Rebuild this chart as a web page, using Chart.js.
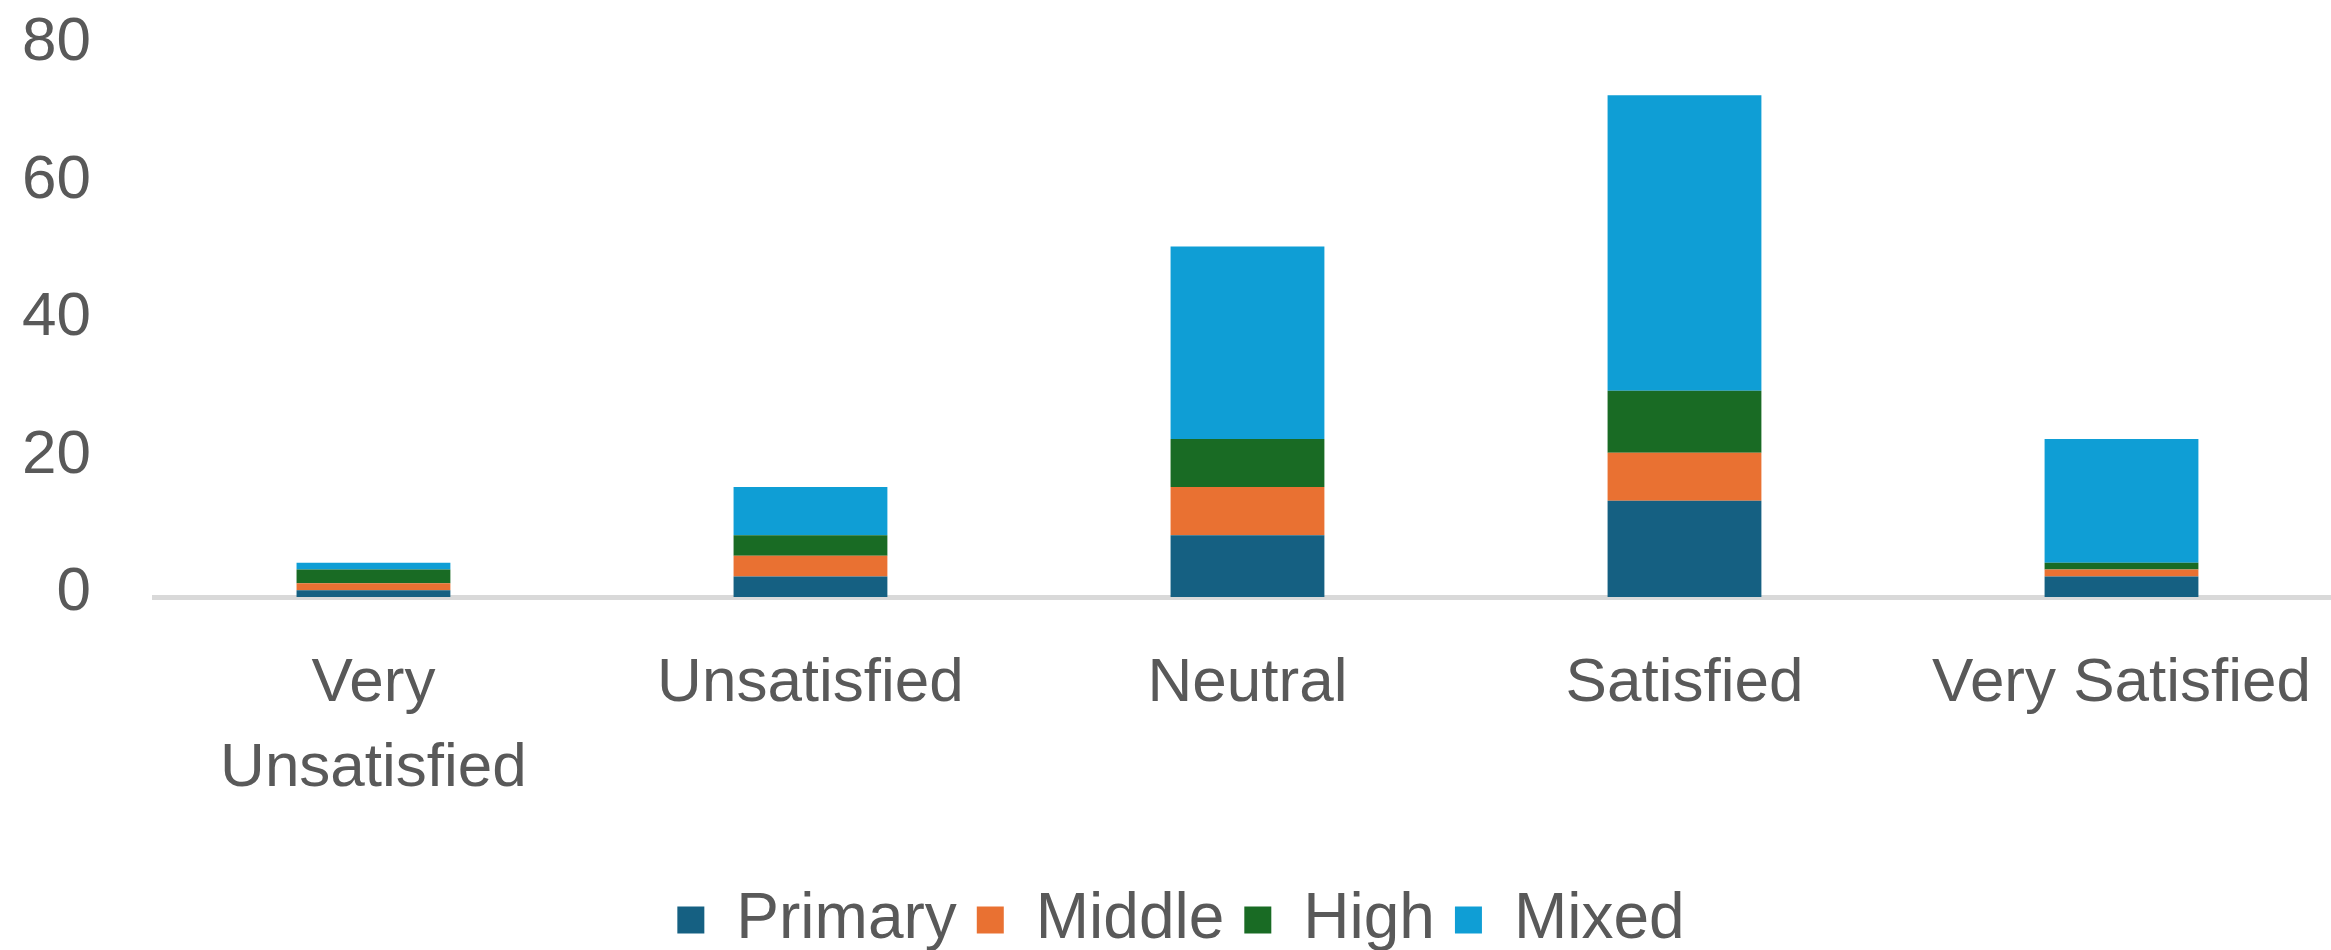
<!DOCTYPE html>
<html>
<head>
<meta charset="utf-8">
<script src="https://cdn.jsdelivr.net/npm/chart.js@4"></script>
<style>
  html, body { margin: 0; padding: 0; background: #fff; overflow: hidden; }
  #wrap { position: absolute; left: 0; top: 0; width: 2340px; height: 950px; }
</style>
</head>
<body>
<div id="wrap"><canvas id="chart"></canvas></div>
<script>
'use strict';

// satisfaction level per school type (stacked counts)
const categories = [['Very', 'Unsatisfied'], 'Unsatisfied', 'Neutral', 'Satisfied', 'Very Satisfied'];
const primary = [1, 3, 9, 14, 3];
const middle  = [1, 3, 7, 7, 1];
const high    = [2, 3, 7, 9, 1];
const mixed   = [1, 7, 28, 43, 18];
const yTicks  = [0, 20, 40, 60, 80];

const FONT = "'Liberation Sans', Arial, sans-serif";
const TEXT = '#595959';

function series(label, data, color) {
  return {
    label,
    data,
    backgroundColor: color,
    borderWidth: 0,
    barPercentage: 0.352,
    categoryPercentage: 1,
  };
}

new Chart(document.getElementById('chart'), {
  type: 'bar',
  data: {
    labels: categories,
    datasets: [
      series('Primary', primary, '#156082'),
      series('Middle', middle, '#E97132'),
      series('High', high, '#196B24'),
      series('Mixed', mixed, '#0F9ED5'),
    ],
  },
  options: {
    responsive: true,
    maintainAspectRatio: false,
    animation: false,
    layout: { padding: { top: 47, left: 22, right: 0, bottom: -12 } },
    plugins: {
      tooltip: { enabled: false },
      legend: {
        position: 'bottom',
        labels: {
          boxWidth: 27,
          boxHeight: 27,
          padding: 20,
          color: TEXT,
          font: { family: FONT, size: 64, lineHeight: 1 },
        },
      },
    },
    scales: {
      x: {
        stacked: true,
        z: 1,
        // hidden tick marks give the label gap without the extra side padding
        grid: { display: false, drawTicks: true, tickLength: 44 },
        border: { display: true, color: '#d9d9d9', width: 5 },
        ticks: {
          color: TEXT,
          padding: 0,
          maxRotation: 0,
          autoSkip: false,
          font: { family: FONT, size: 62, lineHeight: 1.37 },
        },
        // leave a gap between the category labels and the legend
        afterFit: (scale) => { scale.height += 57; },
      },
      y: {
        stacked: true,
        min: 0,
        max: 80,
        afterBuildTicks: (axis) => { axis.ticks = yTicks.map(v => ({ value: v })); },
        grid: { display: false, drawTicks: true, tickLength: 64 },
        border: { display: false },
        ticks: {
          color: TEXT,
          padding: 0,
          labelOffset: -4,
          font: { family: FONT, size: 62 },
        },
      },
    },
  },
});
</script>
</body>
</html>
